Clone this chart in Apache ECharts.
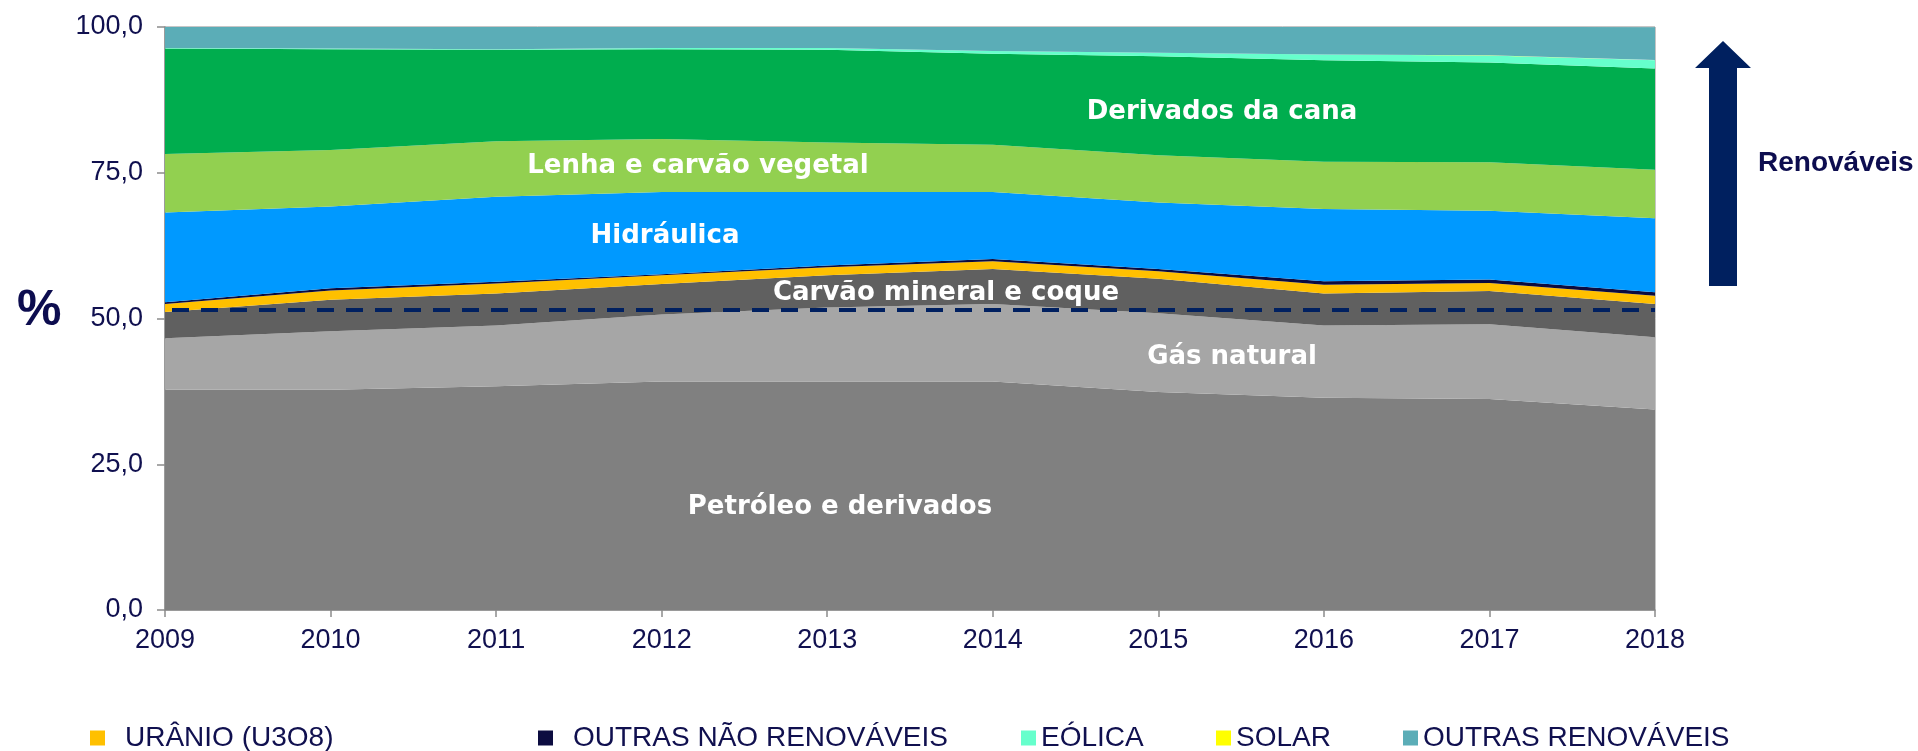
<!DOCTYPE html>
<html>
<head>
<meta charset="utf-8">
<script src="https://cdn.jsdelivr.net/npm/echarts@6/dist/echarts.min.js"></script>
<style>
html,body{margin:0;padding:0;background:#fff;}
#chart{width:1918px;height:751px;}
</style>
</head>
<body>
<div id="chart"></div>
<script>
// ---- data (% of domestic energy supply) ----
const years = ['2009','2010','2011','2012','2013','2014','2015','2016','2017','2018'];
const petroleo   = [37.8, 37.8, 38.4, 39.2, 39.2, 39.2, 37.4, 36.4, 36.2, 34.4];
const gasNatural = [ 8.8, 10.0, 10.4, 11.5, 12.7, 13.3, 13.5, 12.4, 12.8, 12.4];
const carvao     = [ 4.5,  5.4,  5.5,  5.2,  5.5,  6.0,  5.9,  5.5,  5.7,  5.7];
const uranio     = [ 1.4,  1.6,  1.7,  1.5,  1.4,  1.3,  1.3,  1.5,  1.4,  1.4];
const outrasNaoRenov = [0.3, 0.4, 0.3, 0.2, 0.3, 0.4, 0.4, 0.6, 0.6, 0.6];
const hidraulica = [15.4, 14.0, 14.6, 14.1, 12.6, 11.5, 11.4, 12.4, 11.8, 12.7];
const lenha      = [10.0,  9.7,  9.5,  9.1,  8.5,  8.1,  8.1,  8.1,  8.3,  8.3];
const cana       = [18.1, 17.3, 15.7, 15.4, 15.9, 15.6, 17.0, 17.4, 17.1, 17.4];
const eolica     = [ 0.1,  0.1,  0.1,  0.2,  0.3,  0.5,  0.6,  1.0,  1.2,  1.4];
const solar      = [ 0.0,  0.0,  0.0,  0.0,  0.0,  0.0,  0.0,  0.0,  0.04, 0.06];
const outrasRenov= [ 3.6,  3.7,  3.8,  3.6,  3.6,  4.1,  4.4,  4.7,  4.9,  5.6];
const yTicks = [0, 25, 50, 75, 100];
const dashedRef = 51.5;

const NAVY = '#10104f';
const chart = echarts.init(document.getElementById('chart'), null, {renderer:'canvas'});

function area(name, data, color, z) {
  return {
    name: name, type: 'line', stack: 'total', data: data,
    symbol: 'none', showSymbol: false, smooth: false,
    lineStyle: {width: 0, color: color},
    itemStyle: {color: color},
    areaStyle: {color: color, opacity: 1},
    emphasis: {disabled: true},
    z: z
  };
}

const series = [
  area('Petróleo e derivados', petroleo, '#808080', 2),
  area('Gás natural', gasNatural, '#a6a6a6', 2),
  area('Carvão mineral e coque', carvao, '#606060', 2),
  area('URÂNIO (U3O8)', uranio, '#ffc000', 2),
  area('OUTRAS NÃO RENOVÁVEIS', outrasNaoRenov, '#0c0c40', 2),
  area('Hidráulica', hidraulica, '#0099ff', 2),
  area('Lenha e carvão vegetal', lenha, '#92d050', 2),
  area('Derivados da cana', cana, '#00ad4e', 2),
  area('EÓLICA', eolica, '#66ffcc', 2),
  area('SOLAR', solar, '#ffff00', 2),
  area('OUTRAS RENOVÁVEIS', outrasRenov, '#5badb7', 2)
];
series[series.length - 1].markLine = {
  silent: true, symbol: 'none',
  label: {show: false},
  lineStyle: {color: '#002060', width: 4, type: [17, 12], dashOffset: -7},
  data: [{yAxis: dashedRef}],
  z: 10
};

function legend(name, left, pad) {
  return {
    show: true, data: [name], left: left, top: 724, padding: 0,
    itemWidth: 15, itemHeight: 15, icon: 'rect', selectedMode: false,
    textStyle: {color: NAVY, fontSize: 28, fontFamily: 'Liberation Sans, Arial, sans-serif',
                padding: [0, 0, 0, pad]}
  };
}

const inLabel = (text, cx, cy) => ({
  type: 'text', x: cx, y: cy, z: 100,
  style: {text: text, fill: '#ffffff', font: 'bold 26px "DejaVu Sans", Verdana, sans-serif',
          textAlign: 'center', textVerticalAlign: 'middle'}
});

const option = {
  animation: false,
  backgroundColor: '#ffffff',
  grid: {left: 165, right: 263, top: 27, bottom: 141, show: true,
         borderColor: '#8c8c8c', borderWidth: 1, backgroundColor: 'transparent'},
  xAxis: {
    type: 'category', data: years, boundaryGap: false,
    axisLine: {show: true, lineStyle: {color: '#8c8c8c', width: 1.5}},
    axisTick: {show: true, length: 7, alignWithLabel: true, lineStyle: {color: '#8c8c8c', width: 1.5}},
    axisLabel: {color: NAVY, fontSize: 27, fontFamily: 'Liberation Sans, Arial, sans-serif', margin: 17},
    splitLine: {show: false}
  },
  yAxis: {
    type: 'value', min: yTicks[0], max: yTicks[yTicks.length-1], interval: 25,
    axisLine: {show: true, lineStyle: {color: '#8c8c8c', width: 1.5}},
    axisTick: {show: true, length: 8, lineStyle: {color: '#8c8c8c', width: 1.5}},
    axisLabel: {color: NAVY, fontSize: 27, fontFamily: 'Liberation Sans, Arial, sans-serif', margin: 22,
                formatter: v => v.toFixed(1).replace('.', ',')},
    splitLine: {show: false}
  },
  legend: [
    legend('URÂNIO (U3O8)', 90, 15),
    legend('OUTRAS NÃO RENOVÁVEIS', 538, 15),
    legend('EÓLICA', 1021, 0),
    legend('SOLAR', 1216, 0),
    legend('OUTRAS RENOVÁVEIS', 1403, 0)
  ],
  series: series,
  graphic: [
    inLabel('Derivados da cana', 1222, 112),
    inLabel('Lenha e carvão vegetal', 698, 166),
    inLabel('Hidráulica', 665, 236),
    inLabel('Carvão mineral e coque', 946, 293),
    inLabel('Gás natural', 1232, 357),
    inLabel('Petróleo e derivados', 840, 507),
    {type: 'text', x: 17, y: 311, z: 100,
     style: {text: '%', fill: '#0d0d4f', font: 'bold 50px "Liberation Sans", Arial, sans-serif',
             textAlign: 'left', textVerticalAlign: 'middle'}},
    {type: 'polygon', z: 100,
     shape: {points: [[1723,41],[1751,68],[1737,68],[1737,286],[1709,286],[1709,68],[1695,68]]},
     style: {fill: '#00205f'}},
    {type: 'text', x: 1758, y: 163, z: 100,
     style: {text: 'Renováveis', fill: '#0d0d4f', font: 'bold 28px "Liberation Sans", Arial, sans-serif',
             textAlign: 'left', textVerticalAlign: 'middle'}}
  ]
};
chart.setOption(option);
</script>
</body>
</html>
